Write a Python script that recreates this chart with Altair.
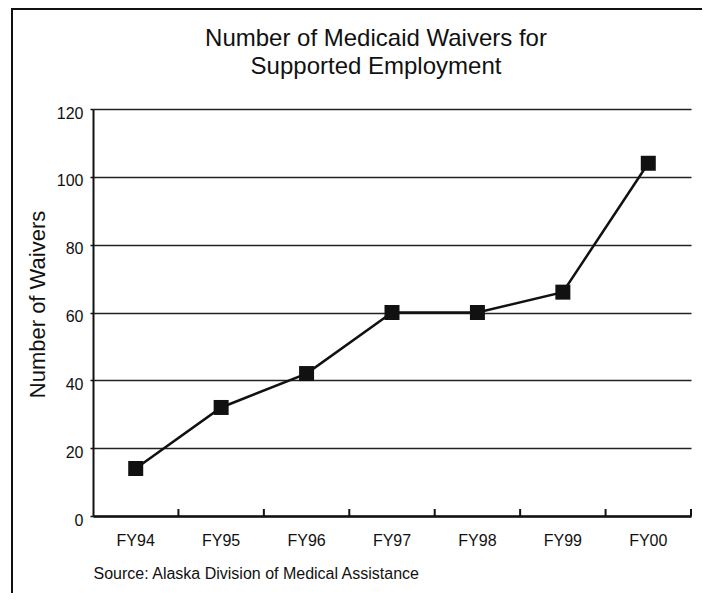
import altair as alt
import pandas as pd

# ---- data ----
years = ["FY94", "FY95", "FY96", "FY97", "FY98", "FY99", "FY00"]
waivers = [14, 32, 42, 60, 60, 66, 104]
y_ticks = [0, 20, 40, 60, 80, 100, 120]
title_lines = ["Number of Medicaid Waivers for", "Supported Employment"]
y_title = "Number of Waivers"
source_note = "Source: Alaska Division of Medical Assistance"

df = pd.DataFrame({"year": years, "waivers": waivers})
one = pd.DataFrame({"k": [0]})

W, H = 598, 407
FONT = "Liberation Sans"
INK = "#111111"

xscale = alt.Scale(type="band", domain=years, paddingInner=0, paddingOuter=0)
yscale = alt.Scale(domain=[0, 120], nice=False)

x_axis = alt.Axis(
    title=source_note, titleX=0, titleY=62, titleAlign="left", titleAnchor="start",
    titleBaseline="alphabetic", titleFontSize=16, titleFontWeight="normal",
    titleFont=FONT, titleColor=INK,
    labelAngle=0, labelFont=FONT, labelFontSize=16, labelColor=INK,
    labelBaseline="alphabetic", labelPadding=29, ticks=False, tickSize=0,
    domainColor=INK, domainWidth=2.5, grid=False,
)
y_axis = alt.Axis(
    title=y_title, values=y_ticks, titleX=-56, titleY=195, titleAngle=270,
    titleAlign="center", titleBaseline="middle", titleFont=FONT, titleFontSize=22,
    titleFontWeight="normal", titleColor=INK,
    labelFont=FONT, labelFontSize=16, labelColor=INK, labelPadding=7, labelOffset=4,
    tickSize=3, tickColor=INK, tickWidth=1.5,
    domainColor=INK, domainWidth=2, grid=True, gridColor="#222222", gridWidth=1.3,
)

X = alt.X("year:N", scale=xscale, axis=x_axis, sort=years)
Y = alt.Y("waivers:Q", scale=yscale, axis=y_axis)

base = alt.Chart(df)
line = base.mark_line(color=INK, strokeWidth=2.5).encode(x=X, y=Y)
pts = base.mark_point(shape="square", filled=True, size=225, color=INK, opacity=1).encode(x=X, y=Y)
ticks = base.mark_rule(color=INK, strokeWidth=2).encode(
    x=alt.X("year:N", scale=xscale, axis=x_axis, sort=years, bandPosition=1),
    y=alt.value(H), y2=alt.value(H - 7),
)

frame_left = alt.Chart(one).mark_rule(color=INK, strokeWidth=2).encode(
    x=alt.value(-81), y=alt.value(-101), y2=alt.value(H + 77)
)
frame_top = alt.Chart(one).mark_rule(color=INK, strokeWidth=2).encode(
    x=alt.value(-82), x2=alt.value(W + 11), y=alt.value(-100)
)

chart = alt.layer(frame_left, frame_top, line, pts, ticks).properties(
    width=W, height=H,
    padding={"left": 85, "top": 101, "right": 11, "bottom": 77},
    autosize=alt.AutoSizeParams(type="none"),
    background="white",
    title=alt.TitleParams(
        text=title_lines, fontSize=24, font=FONT, fontWeight="normal", color=INK,
        anchor="middle", dx=-16, offset=-72, lineHeight=28,
    ),
).configure_view(strokeWidth=0)

chart.save("out.html", embed_options={"renderer": "svg", "actions": False})
